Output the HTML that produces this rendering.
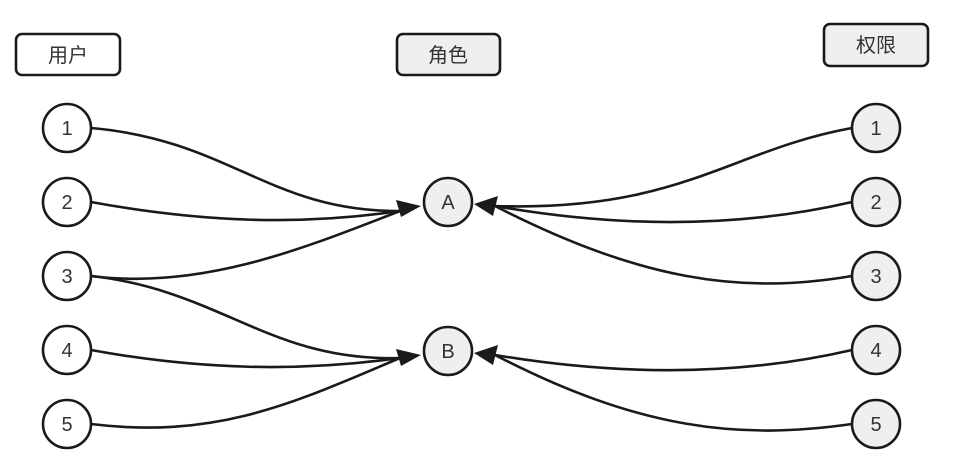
<!DOCTYPE html>
<html><head><meta charset="utf-8"><style>
html,body{margin:0;padding:0;background:#fff;}
svg{display:block;}
text{font-family:"Liberation Sans","Noto Sans CJK SC",sans-serif;fill:#333;}
</style></head><body>
<svg width="964" height="471" viewBox="0 0 964 471" xmlns="http://www.w3.org/2000/svg">
<defs>
<marker id="ah" viewBox="0 0 10 10" refX="9" refY="5" markerWidth="7" markerHeight="7" markerUnits="userSpaceOnUse" orient="auto" overflow="visible">
<path d="M0,0 L10,5 L0,10 L2.5,5 z" fill="#1a1a1a" transform="scale(2.4) translate(-6,-2.9)" />
</marker>
</defs>
<g fill="none" stroke="#1a1a1a" stroke-width="2.6">
<!-- left to A -->
<path d="M91,128 C230,140 270,212 400,211"/>
<path d="M91,202 C200,222 300,226 400,211"/>
<path d="M91,276 C200,290 300,250 400,211"/>
<!-- left to B -->
<path d="M91,276 C220,290 270,362 400,358"/>
<path d="M91,350 C200,370 300,372 400,358"/>
<path d="M91,424 C220,440 300,400 400,358"/>
<!-- right to A -->
<path d="M852,128 C730,150 680,212 495,206"/>
<path d="M852,202 C740,228 620,228 495,206"/>
<path d="M852,276 C740,295 640,280 495,206"/>
<!-- right to B -->
<path d="M852,350 C740,376 620,376 495,355"/>
<path d="M852,424 C740,440 640,430 495,355"/>
</g>
<g fill="#1a1a1a">
<polygon points="421,206 396,200 401,217"/>
<polygon points="421,355 396,349 401,366"/>
<polygon points="474,204 498,196 493,216"/>
<polygon points="474,353 498,345 493,365"/>
</g>
<g stroke="#1a1a1a" stroke-width="2.6">
<rect x="16" y="34" width="104" height="41" rx="6" fill="#fff"/>
<rect x="397" y="34" width="103" height="41" rx="6" fill="#efefef"/>
<rect x="824" y="24" width="104" height="42" rx="6" fill="#efefef"/>
<circle cx="67" cy="128" r="24" fill="#fff"/>
<circle cx="67" cy="202" r="24" fill="#fff"/>
<circle cx="67" cy="276" r="24" fill="#fff"/>
<circle cx="67" cy="350" r="24" fill="#fff"/>
<circle cx="67" cy="424" r="24" fill="#fff"/>
<circle cx="448" cy="202" r="24" fill="#efefef"/>
<circle cx="448" cy="351" r="24" fill="#efefef"/>
<circle cx="876" cy="128" r="24" fill="#efefef"/>
<circle cx="876" cy="202" r="24" fill="#efefef"/>
<circle cx="876" cy="276" r="24" fill="#efefef"/>
<circle cx="876" cy="350" r="24" fill="#efefef"/>
<circle cx="876" cy="424" r="24" fill="#efefef"/>
</g>
<g font-size="20" text-anchor="middle">
<text x="68" y="62">用户</text>
<text x="448" y="62">角色</text>
<text x="876" y="52">权限</text>
<text x="67" y="135">1</text>
<text x="67" y="209">2</text>
<text x="67" y="283">3</text>
<text x="67" y="357">4</text>
<text x="67" y="431">5</text>
<text x="448" y="209">A</text>
<text x="448" y="358">B</text>
<text x="876" y="135">1</text>
<text x="876" y="209">2</text>
<text x="876" y="283">3</text>
<text x="876" y="357">4</text>
<text x="876" y="431">5</text>
</g>
</svg>
</body></html>
